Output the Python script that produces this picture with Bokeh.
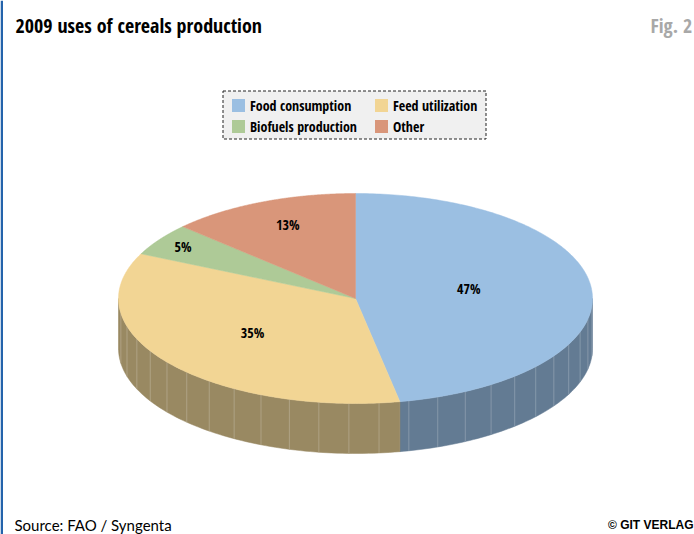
import numpy as np
from bokeh.plotting import figure
from bokeh.models import Range1d
from bokeh.core.properties import value
from bokeh.embed import file_html
from bokeh.resources import INLINE

# ---- data ----
categories = ["Food consumption", "Feed utilization", "Biofuels production", "Other"]
shares = [47, 35, 5, 13]
top_colors = ["#9BBFE2", "#F2D594", "#AECA97", "#D9967A"]
side_colors = ["#637B93", "#998962", "#7F9470", "#A06E5A"]
title_text = "2009 uses of cereals production"
fig_text = "Fig. 2"
source_text = "Source: FAO / Syngenta"
credit_text = "\u00a9 GIT VERLAG"

COND = "Open Sans Condensed, Roboto Condensed, sans-serif"

W, H = 694, 534
p = figure(width=W, height=H, x_range=Range1d(0, W), y_range=Range1d(H, 0),
           output_backend="svg", toolbar_location=None, min_border=0,
           outline_line_color=None, x_axis_type=None, y_axis_type=None)
p.grid.visible = False
p.background_fill_color = "white"
p.border_fill_color = "white"

# pie geometry (style)
cx, cy, rx, ry, depth = 355.0, 298.0, 237.0, 105.0, 50.0

def pt(theta_deg, dy=0.0):
    t = np.radians(theta_deg)
    return cx + rx * np.sin(t), cy - ry * np.cos(t) + dy

total = float(sum(shares))
bounds = np.concatenate([[0.0], np.cumsum(shares) / total * 360.0])

# side faces (front half only: 90..270 deg clockwise from top)
sx, sy, sc = [], [], []
for i in range(len(shares)):
    a, b = max(bounds[i], 90.0), min(bounds[i + 1], 270.0)
    if b <= a:
        continue
    th = np.linspace(a, b, 80)
    xt, yt = pt(th)
    xb, yb = pt(th[::-1], depth)
    sx.append(list(xt) + list(xb))
    sy.append(list(yt) + list(yb))
    sc.append(side_colors[i])
p.patches(sx, sy, fill_color=sc, line_color=sc, line_width=0.5)

# facet lines on the side
def lighten(hexc, f):
    h = hexc.lstrip("#")
    r, g, bb = (int(h[k:k + 2], 16) for k in (0, 2, 4))
    return "#%02x%02x%02x" % tuple(int(c + (255 - c) * f) for c in (r, g, bb))

fx0, fy0, fx1, fy1, fc = [], [], [], [], []
for th in np.arange(94.0, 270.0, 7.3):
    idx = int(np.searchsorted(bounds, th) - 1)
    x0, y0 = pt(th)
    x1, y1 = pt(th, depth)
    fx0.append(x0); fy0.append(y0); fx1.append(x1); fy1.append(y1)
    fc.append(lighten(side_colors[idx], 0.22))
p.segment(fx0, fy0, fx1, fy1, line_color=fc, line_width=1)

# top faces
tx, ty = [], []
for i in range(len(shares)):
    th = np.linspace(bounds[i], bounds[i + 1], 200)
    xa, ya = pt(th)
    tx.append([cx] + list(xa))
    ty.append([cy] + list(ya))
p.patches(tx, ty, fill_color=top_colors, line_color=top_colors, line_width=0.5)

# value labels
label_r = [0.48, 0.55, 0.88, 0.72]
label_dy = [-5, -1, 0, -5]
lx, ly, lt = [], [], []
for i, s in enumerate(shares):
    mid = (bounds[i] + bounds[i + 1]) / 2.0
    t = np.radians(mid)
    lx.append(cx + rx * label_r[i] * np.sin(t))
    ly.append(cy - ry * label_r[i] * np.cos(t) + label_dy[i])
    lt.append(f"{s}%")
p.text(x=lx, y=ly, text=lt, text_font=value(COND), text_font_style="bold",
       text_font_size="14px", text_align="center", text_baseline="middle",
       text_color="black")

# legend (manual, dashed box)
bx0, by0, bx1, by1 = 222.5, 90.5, 485.5, 138.5
p.quad(left=[bx0], right=[bx1], top=[by0], bottom=[by1], fill_color="#F0F0F0",
       line_color="#222222", line_dash="3 2", line_width=1)
col_x = [231.5, 374.5]
row_y = [105, 126]
gx, gy, gt, gcol = [], [], [], []
for i, c in enumerate(categories):
    gx.append(col_x[i % 2]); gy.append(row_y[i // 2]); gt.append(c); gcol.append(top_colors[i])
p.rect(x=[x + 6.5 for x in gx], y=gy, width=13, height=13, fill_color=gcol, line_color=None)
p.text(x=[x + 18 for x in gx], y=gy, text=gt, text_font=value(COND),
       text_font_style="bold", text_font_size="14px", text_baseline="middle",
       text_color="black")

# titles and footer
p.text(x=[15], y=[25], text=[title_text], text_font=value(COND), text_font_style="bold",
       text_font_size="20px", text_baseline="middle", text_color="black")
p.text(x=[650], y=[25], text=[fig_text], text_font=value(COND), text_font_style="bold",
       text_font_size="20px", text_baseline="middle", text_color="#A8A8A8")
p.text(x=[14], y=[524], text=[source_text], text_font=value("Lato"),
       text_font_size="15px", text_baseline="middle", text_color="black")
p.text(x=[693], y=[524], text=[credit_text], text_font=value("Liberation Sans"), text_font_style="bold",
       text_font_size="12px", text_baseline="middle", text_align="right", text_color="black")

# left blue rule
p.quad(left=[0], right=[2.5], top=[0], bottom=[H], fill_color="#2463AB", line_color=None)

open("out.html", "w").write(file_html(p, INLINE))
